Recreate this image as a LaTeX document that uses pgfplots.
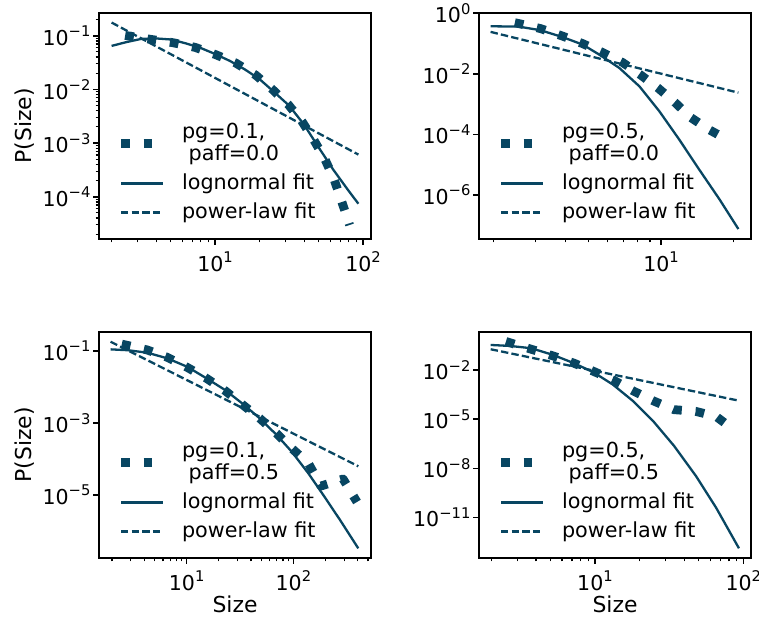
\documentclass[border=0pt]{standalone}
\usepackage{pgfplots}
\pgfplotsset{compat=1.18}
\usepackage{fontspec}
\setmainfont{DejaVu Sans}
\definecolor{dc}{HTML}{084662}
\newcommand{\tl}[1]{10\raisebox{0.42em}{\fontsize{7.4}{8}\selectfont #1}}
\newcommand{\twoline}[2]{$\vcenter{\baselineskip=9bp\hbox{#1}\hbox{\hspace{0.318em}#2}}$}
\pgfplotsset{
  every axis/.append style={
    scale only axis, width=136bp, height=113bp,
    axis line style={line width=0.8bp},
    tick align=outside, tick pos=left,
    major tick length=2.9bp, minor tick length=1.7bp,
    every major tick/.append style={black, line width=0.8bp},
    every minor tick/.append style={black, line width=0.6bp},
    tick label style={font=\fontsize{10.3}{12}\selectfont},
    yticklabel style={inner xsep=1.2bp},
    label style={font=\fontsize{11}{13}\selectfont},
    xlabel style={at={(axis description cs:0.5,-0.2035)}, anchor=center},
    ylabel style={at={(axis description cs:-0.272,0.5)}, anchor=center},
    legend style={draw=none, fill=none, at={(axis description cs:0.065,0.073)}, anchor=south west,
      inner sep=0pt, outer sep=0pt, row sep=4.5bp, font=\fontsize{10.4}{12}\selectfont,
      nodes={inner sep=0pt, text depth=},
      /tikz/every odd column/.append style={column sep=7.5bp}},
    legend cell align=left,
  },
}
\tikzset{
  dotstyle/.style={dc, line width=4.4bp, dash pattern=on 4.4bp off 6.9bp, line cap=butt, line join=round},
  fitline/.style={dc, line width=1.15bp},
  powline/.style={dc, line width=1.15bp, dash pattern=on 3.7bp off 1.6bp},
}
\newcommand{\legimg}{\pgfplotsset{legend image code/.code={\draw[##1] (0bp,0bp) -- (20.8bp,0bp);}}}
\begin{document}
\begin{tikzpicture}
% Panel 1
\begin{axis}[xmode=log, ymode=log, anchor=south west, at={(49.5bp,191bp)},
  xmin=1.644, xmax=113.2, ymin=1.63e-5, ymax=0.265,
  xtick={10,100}, xticklabels={\tl{1},\tl{2}},
  minor xtick={2,3,4,5,6,7,8,9,20,30,40,50,60,70,80,90},
  ytick={1e-1,1e-2,1e-3,1e-4}, yticklabels={\tl{−1},\tl{−2},\tl{−3},\tl{−4}},
  minor ytick={2e-5,3e-5,4e-5,5e-5,6e-5,7e-5,8e-5,9e-5,2e-4,3e-4,4e-4,5e-4,6e-4,7e-4,8e-4,9e-4,2e-3,3e-3,4e-3,5e-3,6e-3,7e-3,8e-3,9e-3,2e-2,3e-2,4e-2,5e-2,6e-2,7e-2,8e-2,9e-2,0.2},
  ylabel={P(Size)}]
\legimg
\addplot[dotstyle] coordinates {(2.47,0.1014)(2.62,0.0987)(3.67,0.0856)(5.20,0.0741)(7.33,0.0607)(10.1,0.0444)(13.8,0.0310)(18.8,0.0185)(24.4,0.0100)(31.3,0.00519)(38.9,0.00247)(46.6,0.00113)(55.3,4.99e-4)(63.7,2.12e-4)(71.7,8.2e-5)(79.6,3.49e-5)(81.1,2.97e-5)};
\addlegendentry{\twoline{pg=0.1,}{paff=0.0}}
\addplot[fitline] coordinates {(2.0,0.0646)(2.51,0.0759)(3.16,0.0871)(3.98,0.0891)(5.01,0.0851)(6.31,0.0724)(7.94,0.0596)(10,0.0457)(12.6,0.0339)(15.8,0.0238)(20.0,0.0155)(25.1,0.00891)(31.6,0.00501)(39.8,0.00224)(50.1,8.32e-4)(63.1,3.16e-4)(79.4,1.32e-4)(93,7.41e-5)};
\addlegendentry{lognormal fit}
\addplot[powline] coordinates {(2.0,0.176)(93,6.1e-4)};
\addlegendentry{power-law fit}
\end{axis}
% Panel 2
\begin{axis}[xmode=log, ymode=log, anchor=south west, at={(239.5bp,191bp)},
  xmin=1.745, xmax=23.7, ymin=3.49e-8, ymax=1.023,
  xtick={10}, xticklabels={\tl{1}},
  minor xtick={2,3,4,5,6,7,8,9,20},
  ytick={1,1e-2,1e-4,1e-6}, yticklabels={\tl{0},\tl{−2},\tl{−4},\tl{−6}},
  minor ytick={}]
\legimg
\addplot[dotstyle] coordinates {(2.46,0.488)(2.56,0.456)(3.15,0.312)(3.87,0.179)(4.71,0.100)(5.71,0.0507)(6.91,0.0238)(8.23,0.00912)(9.75,0.00332)(11.4,0.00115)(13.3,3.6e-4)(15.9,1.41e-4)(18.45,7.4e-5)};
\addlegendentry{\twoline{pg=0.5,}{paff=0.0}}
\addplot[fitline] coordinates {(1.95,0.373)(2.56,0.363)(3.15,0.275)(3.87,0.166)(4.71,0.093)(5.55,0.0425)(6.71,0.0155)(8.13,0.00385)(9.84,5.79e-4)(11.9,6.79e-5)(14.4,7.0e-6)(17.5,7.23e-7)(21.0,7.45e-8)};
\addlegendentry{lognormal fit}
\addplot[powline] coordinates {(1.95,0.243)(21.0,0.00239)};
\addlegendentry{power-law fit}
\end{axis}
% Panel 3
\begin{axis}[xmode=log, ymode=log, anchor=south west, at={(49.5bp,31.5bp)},
  xmin=1.51, xmax=533, ymin=1.78e-7, ymax=0.337,
  xtick={10,100}, xticklabels={\tl{1},\tl{2}},
  minor xtick={2,3,4,5,6,7,8,9,20,30,40,50,60,70,80,90,200,300,400,500},
  ytick={1e-1,1e-3,1e-5}, yticklabels={\tl{−1},\tl{−3},\tl{−5}},
  minor ytick={},
  xlabel={Size}, ylabel={P(Size)}]
\legimg
\addplot[dotstyle] coordinates {(2.47,0.155)(2.68,0.147)(4.27,0.107)(6.58,0.0668)(10.1,0.0352)(15.3,0.0175)(22.9,0.0079)(33.7,0.00316)(48.3,0.00135)(69.2,5.18e-4)(96.4,1.98e-4)(138,7.6e-5)(181.5,1.78e-5)(292,2.78e-5)(394,6.4e-6)};
\addlegendentry{\twoline{pg=0.1,}{paff=0.5}}
\addplot[fitline] coordinates {(1.94,0.111)(2.82,0.105)(4.28,0.0897)(6.58,0.0627)(10.1,0.0366)(15.3,0.0175)(22.9,0.00826)(33.7,0.00337)(48.3,0.00135)(69.7,4.65e-4)(96.4,1.6e-4)(138,4.0e-5)(190.5,1.0e-5)(273.5,2.02e-6)(405,3.3e-7)};
\addlegendentry{lognormal fit}
\addplot[powline] coordinates {(1.94,0.181)(405,6.3e-5)};
\addlegendentry{power-law fit}
\end{axis}
% Panel 4
\begin{axis}[xmode=log, ymode=log, anchor=south west, at={(239.5bp,31.5bp)},
  xmin=1.652, xmax=112.7, ymin=3.31e-14, ymax=2.14,
  xtick={10,100}, xticklabels={\tl{1},\tl{2}},
  minor xtick={2,3,4,5,6,7,8,9,20,30,40,50,60,70,80,90},
  ytick={1e-2,1e-5,1e-8,1e-11}, yticklabels={\tl{−2},\tl{−5},\tl{−8},\tl{−11}},
  minor ytick={},
  xlabel={Size}]
\legimg
\addplot[dotstyle] coordinates {(2.51,0.565)(2.66,0.478)(3.72,0.189)(5.21,0.0741)(7.21,0.0267)(9.84,0.00822)(13.3,0.00247)(18.0,5.51e-4)(24.6,1.36e-4)(34.1,3.85e-5)(47.8,3.03e-5)(65.8,1.44e-5)(84,2.7e-6)};
\addlegendentry{\twoline{pg=0.5,}{paff=0.5}}
\addplot[fitline] coordinates {(1.98,0.346)(2.69,0.30)(3.72,0.218)(5.21,0.0853)(7.21,0.0267)(9.84,0.00714)(13.2,0.00131)(18.0,1.32e-4)(24.6,7.94e-6)(34.1,2.37e-7)(48.0,3.35e-9)(65.5,3.98e-11)(93.5,1.29e-13)};
\addlegendentry{lognormal fit}
\addplot[powline] coordinates {(1.98,0.189)(93.5,1.36e-4)};
\addlegendentry{power-law fit}
\end{axis}
\pgfresetboundingbox
\useasboundingbox (0bp,0bp) rectangle (379.5bp,310.5bp);
\end{tikzpicture}
\end{document}
